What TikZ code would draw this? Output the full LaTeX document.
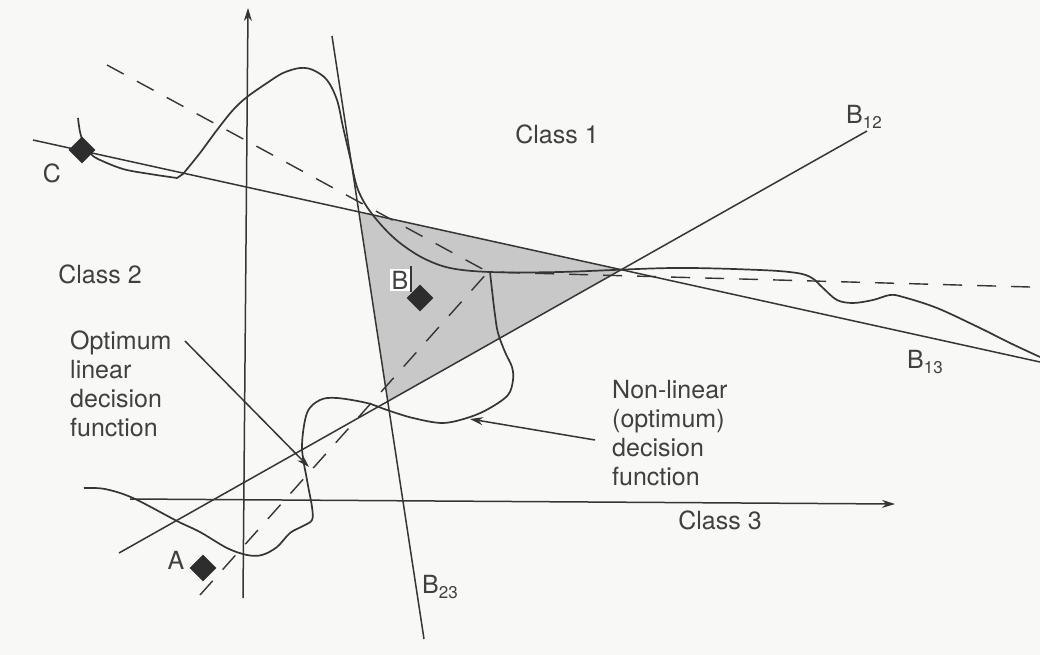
\documentclass[tikz,border=0pt]{standalone}
\usepackage{fontspec}
\setmainfont{TeX Gyre Heros}
\usetikzlibrary{arrows.meta,shapes.geometric}
\definecolor{ink}{HTML}{353535}
\definecolor{txt}{HTML}{404040}
\definecolor{paper}{HTML}{F8F8F6}
\definecolor{trigray}{HTML}{C8C8C8}
\newcommand\subnum[1]{\raisebox{-0.35ex}{\fontsize{17}{17}\selectfont #1}}
\tikzset{
  ln/.style={draw=ink, line width=1.5pt},
  crv/.style={draw=ink, line width=1.7pt, line join=round},
  dsh/.style={draw=ink, line width=1.4pt, dash pattern=on 19pt off 15pt},
  lbl/.style={font=\fontsize{25}{29}\selectfont, text=txt, inner sep=0pt},
  pt/.style={diamond, fill=ink!85!black, minimum width=27pt, minimum height=27pt, inner sep=0pt},
  tip/.style={-{Stealth[length=13pt,width=8pt]}}
}
\begin{document}
\begin{tikzpicture}[x=1pt,y=-1pt]
\fill[paper] (0,0) rectangle (1040,655);
\useasboundingbox (0,0) rectangle (1040,655);

% line end points
\coordinate (b13s) at (33,140);   \coordinate (b13e) at (1040,362);
\coordinate (b12s) at (119,553);  \coordinate (b12e) at (867,131);
\coordinate (b23s) at (332,36);   \coordinate (b23e) at (424,639);
\coordinate (vys) at (243,598);   \coordinate (vye) at (248,8);
\coordinate (hxs) at (130,499);   \coordinate (hxe) at (895,504);

% shaded triangle
\coordinate (t1) at (intersection of b13s--b13e and b23s--b23e);
\coordinate (t2) at (intersection of b13s--b13e and b12s--b12e);
\coordinate (t3) at (intersection of b12s--b12e and b23s--b23e);
\fill[trigray] (t1) -- (t2) -- (t3) -- cycle;

% dashed optimum linear boundaries
\coordinate (j) at (488,272);
\coordinate (d1) at (107,65);
\coordinate (d2) at (1030,287);
\coordinate (d3) at (200,595);
\draw[dsh] (d1) -- (j);
\draw[dsh] (d2) -- (j);
\draw[dsh] (d3) -- (j);

% straight boundaries
\draw[ln] (b13s) -- (b13e);
\draw[ln] (b12s) -- (b12e);
\draw[ln] (b23s) -- (b23e);

% axes
\draw[ln,tip] (vys) -- (vye);
\draw[ln,tip] (hxs) -- (hxe);

% non-linear boundary (upper)
\draw[crv] plot[smooth,tension=0.55] coordinates {(78,118) (80,132) (84,144) (90,153) (98,159) (123,169) (150,174) (177,178)}
  -- plot[smooth,tension=0.55] coordinates {(183,174) (200,153) (217,130) (233,110) (247,97) (267,83) (283,73) (300,68) (313,70) (327,80) (337,100) (343,127) (350,157) (357,187) (367,207) (383,227) (400,243) (423,258) (450,268) (490,272) (560,272) (673,268) (760,270) (797,273) (812,278) (823,288) (837,300) (853,303) (873,300) (890,295) (903,297) (937,308) (980,328) (1010,343) (1040,357)};

% non-linear boundary (lower)
\draw[crv] plot[smooth,tension=0.55] coordinates {(490,272) (492,290) (495,315) (498,333) (505,352) (512,367) (513,380) (508,395) (490,408) (470,417) (443,423) (413,418) (387,410) (367,403) (337,398) (320,400) (307,413) (302,447) (307,480) (312,507) (312,520) (303,526) (290,533) (277,547) (262,555) (247,555) (227,548) (200,532) (177,521) (133,498) (105,489) (84,488)};

% points
\node[pt] (pa) at (203,568) {};
\node[pt] (pb) at (420,298) {};
\node[pt] (pc) at (82,150) {};

% labels
\node[lbl] (c1) at (557,134) {Class 1};
\node[lbl] (c2) at (100,274) {Class 2};
\node[lbl] (c3) at (720,520) {Class 3};
\node[lbl] (lc) at (52,173) {C};
\node[lbl] (la) at (176,560) {A};
\node[lbl, fill=white, inner sep=1.5pt] (lb) at (400,280) {B};
\coordinate (tk1) at (411,266); \coordinate (tk2) at (411,292);
\draw[ln] (tk1) -- (tk2);
\node[lbl,anchor=west] (lb12) at (846,117) {B\subnum{12}};
\node[lbl,anchor=west] (lb13) at (907,362) {B\subnum{13}};
\node[lbl,anchor=west] (lb23) at (422,587) {B\subnum{23}};

\node[lbl, align=left, anchor=north west] (opt) at (70,331) {Optimum\\linear\\decision\\function};
\node[lbl, align=left, anchor=north west] (nl) at (612,380) {Non-linear\\(optimum)\\decision\\function};

% pointers
\coordinate (opts) at (185,341); \coordinate (optt) at (309,467);
\coordinate (nls) at (595,440);  \coordinate (nlt) at (470,419);
\draw[ln,tip] (opts) -- (optt);
\draw[ln,tip] (nls) -- (nlt);
\end{tikzpicture}
\end{document}
